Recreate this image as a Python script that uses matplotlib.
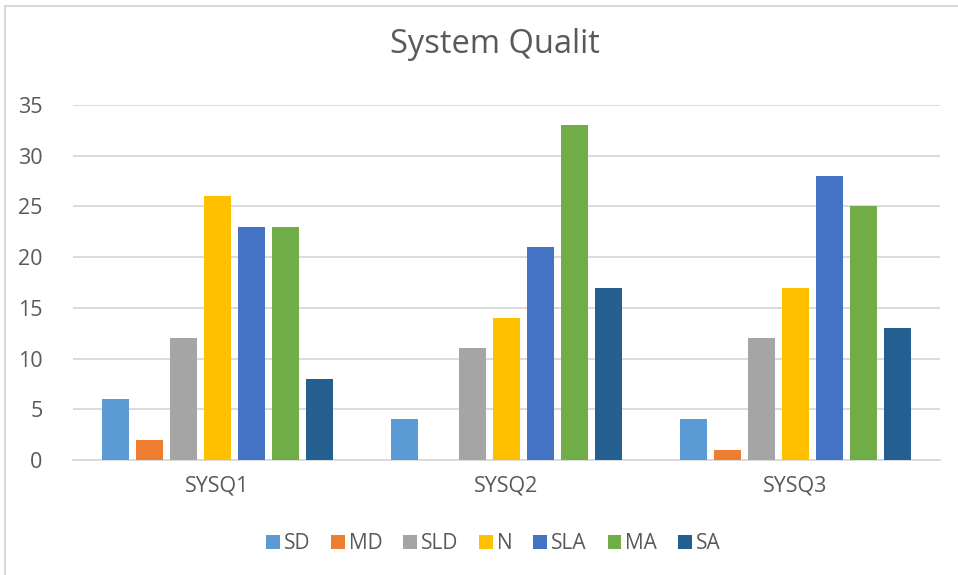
import numpy as np
import matplotlib.pyplot as plt
from matplotlib.lines import Line2D

plt.rcParams['font.family'] = ['Open Sans', 'DejaVu Sans']

groups = ['SYSQ1', 'SYSQ2', 'SYSQ3']
series = ['SD', 'MD', 'SLD', 'N', 'SLA', 'MA', 'SA']
values = {
    'SD':  [6, 4, 4],
    'MD':  [2, 0, 1],
    'SLD': [12, 11, 12],
    'N':   [26, 14, 17],
    'SLA': [23, 21, 28],
    'MA':  [23, 33, 25],
    'SA':  [8, 17, 13],
}
colors = ['#5B9BD5', '#ED7D31', '#A5A5A5', '#FFC000', '#4472C4', '#70AD47', '#255E91']
yticks = [0, 5, 10, 15, 20, 25, 30, 35]

txt = '#595959'
grid = '#D9D9D9'

fig = plt.figure(figsize=(9.58, 5.75), dpi=100)
ax = fig.add_axes([73 / 958, 0.2, (940 - 73) / 958, 0.8174 - 0.2])

x = np.arange(len(groups))
step = 0.118
width = 0.093
for i, (name, c) in enumerate(zip(series, colors)):
    off = (i - 3) * step
    ax.bar(x + off, values[name], width=width, color=c, label=name, zorder=3)

ax.set_xlim(-0.5, 2.5)
ax.set_ylim(0, 35)
ax.set_yticks(yticks)
ax.set_xticks(x)
ax.set_xticklabels(groups)
ax.tick_params(axis='both', length=0, colors=txt, labelsize=15.5)
ax.tick_params(axis='y', pad=22)
ax.tick_params(axis='x', pad=11)
ax.grid(axis='y', color=grid, linewidth=1.3, zorder=0)
for s in ['top', 'right', 'left']:
    ax.spines[s].set_visible(False)
ax.spines['bottom'].set_color(grid)
ax.spines['bottom'].set_linewidth(1.3)

fig.text(0.517, 0.922, 'System Qualit', ha='center', va='center', fontsize=23.5, color=txt)

fig.legend(loc='center', bbox_to_anchor=(0.515, 0.054), ncol=7, frameon=False,
           fontsize=15, labelcolor=txt, handlelength=0.65, handleheight=0.65,
           handletextpad=0.2, columnspacing=1.0)

# outer frame of the chart object
fig.add_artist(Line2D([5 / 958, 1.0], [1 - 6 / 575, 1 - 6 / 575], color='#D9D9D9', lw=1.5))
fig.add_artist(Line2D([5 / 958, 5 / 958], [0, 1 - 6 / 575], color='#D9D9D9', lw=1.5))

fig.savefig('out.png', dpi=100, facecolor='white')
